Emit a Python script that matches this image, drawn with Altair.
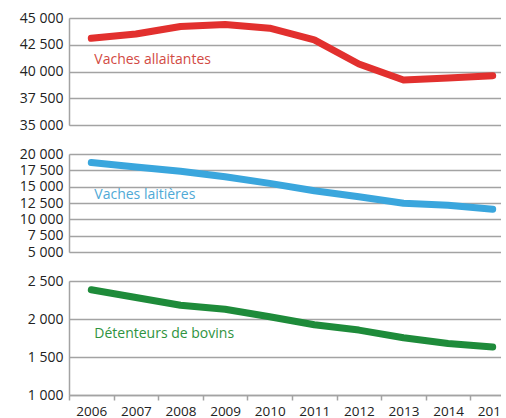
import altair as alt
import pandas as pd

years = [str(y) for y in range(2006, 2016)]
allaitantes = [43100, 43500, 44200, 44400, 44050, 42950, 40700, 39200, 39400, 39600]
laitieres = [18700, 18000, 17350, 16530, 15500, 14380, 13470, 12450, 12150, 11540]
detenteurs = [2385, 2283, 2180, 2128, 2030, 1925, 1854, 1753, 1677, 1633]

FONT = "Open Sans"
GRID = "#a3a3a3"

label_expr = "replace(format(datum.value, ','), ',', ' ')"


def panel(values, color, text_color, domain, ticks, height, label, label_value, bottom):
    df = pd.DataFrame({"year": years, "value": values})
    lab = pd.DataFrame({"year": ["2006"], "value": [label_value], "label": [label]})
    if bottom:
        xaxis = alt.Axis(
            title=None, labelAngle=0, tickBand="extent", ticks=True, tickSize=5,
            tickColor=GRID, tickWidth=1.5, domainColor=GRID, domainWidth=1.5,
            labelFont=FONT, labelFontSize=13.5, labelColor="#222222", labelPadding=4,
            grid=False, labelOverlap=False,
        )
    else:
        xaxis = None
    x = alt.X(
        "year:O",
        bandPosition=0.5,
        scale=alt.Scale(type="band", paddingInner=0, paddingOuter=0),
        axis=xaxis,
    )
    y = alt.Y(
        "value:Q",
        scale=alt.Scale(domain=domain, nice=False, zero=False),
        axis=alt.Axis(
            title=None, values=ticks, grid=True, gridColor=GRID, gridWidth=1.5,
            ticks=False, domain=True, domainColor=GRID, domainWidth=1.5,
            labelFont=FONT, labelFontSize=14, labelColor="#222222", labelPadding=6,
            labelExpr=label_expr, labelOverlap=False,
        ),
    )
    line = alt.Chart(df).mark_line(
        color=color, strokeWidth=7, strokeCap="round", strokeJoin="round"
    ).encode(x=x, y=y)
    text = alt.Chart(lab).mark_text(
        align="left", baseline="middle", dx=3, font=FONT, fontSize=14,
        color=text_color
    ).encode(x=x, y=y, text="label:N")
    return alt.layer(line, text).properties(width=446, height=height)


top = panel(allaitantes, "#e2302e", "#d24a43", [35000, 45000],
            [35000, 37500, 40000, 42500, 45000], 107, "Vaches allaitantes", 41075, False)
mid = panel(laitieres, "#3aa6dd", "#4fa9d6", [5000, 20000],
            [5000, 7500, 10000, 12500, 15000, 17500, 20000], 98, "Vaches laitières", 13700, False)
bot = panel(detenteurs, "#1e8b3a", "#2f9340", [1000, 2500],
            [1000, 1500, 2000, 2500], 114, "Détenteurs de bovins", 1800, True)

chart = alt.vconcat(top, mid, bot, spacing=29, bounds="flush").properties(
    padding={"left": 18, "top": 10, "right": -16, "bottom": 0},
).configure_view(stroke=None).configure(background="white")

chart.save("out.html", embed_options={"renderer": "svg", "actions": False})
